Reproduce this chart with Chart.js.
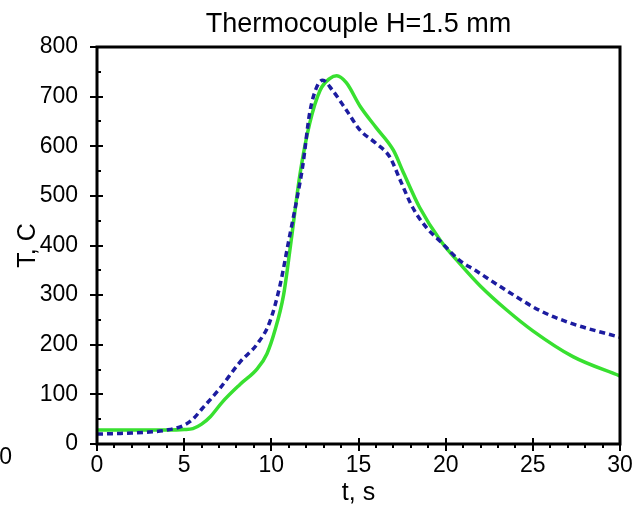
<!DOCTYPE html>
<html>
<head>
<meta charset="utf-8">
<style>
  html, body { margin: 0; padding: 0; background: #fff; }
  #wrap { width: 636px; height: 505px; }
</style>
<script src="https://cdn.jsdelivr.net/npm/chart.js@4/dist/chart.umd.min.js"></script>
</head>
<body>
<div id="wrap"><canvas id="c" width="636" height="505"></canvas></div>
<script>
// Thermocouple readings at H = 1.5 mm
const chartTitle = 'Thermocouple H=1.5 mm';
const xTitle = 't, s';
const yTitle = 'T, C';

// solid green series
const greenTime = [0, 2, 4, 5, 5.5, 6, 6.5, 7.2, 8.2, 9.2, 9.75, 10.2, 10.7, 11.1, 11.65, 12.2, 12.8, 13.37, 13.75, 14.3, 15.1, 16.0, 17.0, 17.6, 18.5, 19.7, 21.0, 22.0, 23.5, 25.0, 27.3, 30];
const greenTemp = [28, 28, 28, 29, 31, 40, 55, 85, 120, 152, 182, 228, 300, 400, 545, 646, 713, 737, 742, 728, 680, 638, 592, 545, 477, 410, 356, 318, 270, 228, 176, 137];

// dashed blue series
const blueTime = [0, 1, 2, 3, 4, 5, 5.5, 6, 7, 8.2, 9.2, 9.9, 10.5, 11.0, 11.5, 11.8, 12.2, 12.6, 12.95, 13.5, 14.3, 15.1, 16.0, 16.8, 17.4, 18.1, 18.9, 19.7, 20.8, 21.7, 23.5, 25.4, 27.3, 30];
const blueTemp = [20, 21, 22, 24, 28, 38, 50, 70, 110, 165, 202, 245, 320, 410, 500, 560, 667, 719, 733, 713, 673, 632, 606, 578, 531, 477, 436, 408, 370, 350, 309, 269, 242, 215];

// axis ranges and ticks
const xTicks = [0, 5, 10, 15, 20, 25, 30];
const yTicks = [0, 100, 200, 300, 400, 500, 600, 700, 800];

const FONT = '"Liberation Sans", Arial, sans-serif';

function pts(xs, ys) { return xs.map((x, i) => ({ x: x, y: ys[i] })); }

// frame, tick marks and titles drawn over the plot
const framePlugin = {
  id: 'frame',
  afterDraw(chart) {
    const ctx = chart.ctx;
    const a = chart.chartArea;
    const xs = chart.scales.x, ys = chart.scales.y;
    ctx.save();
    ctx.strokeStyle = '#000';
    ctx.lineWidth = 3;
    ctx.strokeRect(a.left, a.top, a.right - a.left, a.bottom - a.top);

    ctx.lineWidth = 2;
    ctx.beginPath();
    // x axis: minor ticks every 1 s, major every 5 s
    for (let t = xs.min; t <= xs.max; t += 1) {
      const px = Math.round(xs.getPixelForValue(t));
      if (t % 5 === 0) { ctx.moveTo(px, a.bottom - 6); ctx.lineTo(px, a.bottom + 7); }
      else { ctx.moveTo(px, a.bottom); ctx.lineTo(px, a.bottom + 4); }
    }
    // y axis: minor every 50, major every 100
    for (let v = ys.min; v <= ys.max; v += 50) {
      const py = Math.round(ys.getPixelForValue(v));
      if (v % 100 === 0) { ctx.moveTo(a.left - 7, py); ctx.lineTo(a.left + 6, py); }
      else { ctx.moveTo(a.left, py); ctx.lineTo(a.left + 4, py); }
    }
    ctx.stroke();

    ctx.fillStyle = '#000';
    ctx.textAlign = 'center';
    ctx.textBaseline = 'alphabetic';
    ctx.font = '27px ' + FONT;
    ctx.fillText(chartTitle, (a.left + a.right) / 2, 32);

    ctx.font = '25px ' + FONT;
    ctx.fillText(xTitle, (a.left + a.right) / 2, 500);

    ctx.save();
    ctx.translate(35, (a.top + a.bottom) / 2);
    ctx.rotate(-Math.PI / 2);
    ctx.fillText(yTitle, 0, 0);
    ctx.restore();

    // edge of the neighbouring panel's axis label
    ctx.font = '23px ' + FONT;
    ctx.textAlign = 'right';
    ctx.fillText('30', 12, 464);
    ctx.restore();
  }
};

new Chart(document.getElementById('c'), {
  type: 'scatter',
  data: {
    datasets: [
      {
        data: pts(blueTime, blueTemp),
        showLine: true,
        borderColor: '#1c1ca0',
        borderWidth: 3.5,
        borderDash: [6, 4],
        pointRadius: 0,
        cubicInterpolationMode: 'monotone',
        fill: false
      },
      {
        data: pts(greenTime, greenTemp),
        showLine: true,
        borderColor: '#38e030',
        borderWidth: 3.5,
        pointRadius: 0,
        cubicInterpolationMode: 'monotone',
        fill: false
      }
    ]
  },
  options: {
    responsive: false,
    animation: false,
    layout: { padding: { left: 0, right: 16, top: 47, bottom: 0 } },
    plugins: { legend: { display: false }, tooltip: { enabled: false }, title: { display: false } },
    scales: {
      x: {
        type: 'linear',
        min: 0, max: 30,
        afterFit(s) { s.height = 61; },
        afterBuildTicks(s) { s.ticks = xTicks.map(v => ({ value: v })); },
        grid: { display: false },
        border: { display: false },
        ticks: { color: '#000', font: { family: FONT, size: 23 }, padding: 0, maxRotation: 0 }
      },
      y: {
        type: 'linear',
        min: 0, max: 800,
        afterFit(s) { s.width = 97; },
        afterBuildTicks(s) { s.ticks = yTicks.map(v => ({ value: v })); },
        grid: { display: false },
        border: { display: false },
        ticks: { color: '#000', font: { family: FONT, size: 23 }, padding: 11 }
      }
    }
  },
  plugins: [framePlugin]
});
</script>
</body>
</html>
